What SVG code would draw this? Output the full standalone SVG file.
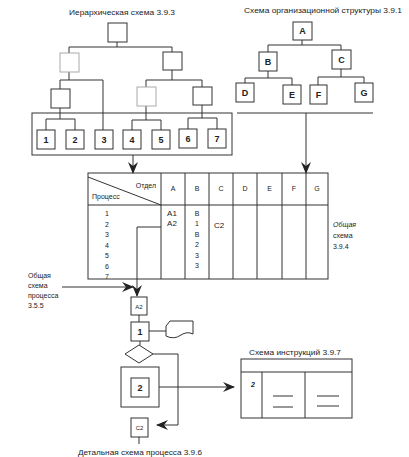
<svg xmlns="http://www.w3.org/2000/svg" width="409" height="457" viewBox="0 0 409 457">
<style>
.b{fill:#fff;stroke:#333;stroke-width:1}
.l{fill:#fff;stroke:#aaa;stroke-width:1}
.c{fill:none;stroke:#333;stroke-width:1}
.t{font-family:"Liberation Sans",Arial,sans-serif;fill:#222}
.n{font-size:9px;text-anchor:middle;font-weight:bold}
.s{font-size:7px}
.m{text-anchor:middle}
</style>
<defs>
<marker id="ar" markerWidth="12" markerHeight="10" refX="11" refY="5" orient="auto" markerUnits="userSpaceOnUse">
<path d="M0,0 L12,5 L0,10 L4,5 Z" fill="#222"/>
</marker>
</defs>
<rect width="409" height="457" fill="#fff"/>

<!-- titles -->
<text class="t" x="122" y="15" font-size="8" text-anchor="middle" textLength="106" lengthAdjust="spacingAndGlyphs">Иерархическая схема 3.9.3</text>
<text class="t" x="323" y="13" font-size="8" text-anchor="middle" textLength="158" lengthAdjust="spacingAndGlyphs">Схема организационной структуры 3.9.1</text>

<!-- connectors -->
<g id="connectors">
<path class="c" d="M117,42V47M69,47H172M69,47V53M172,47V52"/>
<path class="c" d="M69,72V80M60,80H103M60,80V89M103,80V130"/>
<path class="c" d="M60,108V119M46,119H75M46,119V130M75,119V130"/>
<path class="c" d="M172,70V80M146,80H202M146,80V87M202,80V87"/>
<path class="c" d="M146,106V120M132,120H161M132,120V130M161,120V130"/>
<path class="c" d="M202,105V118M188,118H217M188,118V130M217,118V130"/>
<path class="c" d="M133,155V173" marker-end="url(#ar)"/>
<path class="c" d="M302,40V45M268,45H341M268,45V52M341,45V50"/>
<path class="c" d="M268,71V78M245,78H292M245,78V83M292,78V85"/>
<path class="c" d="M341,69V77M318,77H364M318,77V85M364,77V83"/>
<path class="c" d="M237,113H373"/>
<path class="c" d="M306,113V173" marker-end="url(#ar)"/>
<path class="c" d="M161,227H137V296" marker-end="url(#ar)"/>
<path class="c" d="M62,287H133" marker-end="url(#ar)"/>
<path class="c" d="M139,315V322M149,331H166M140,341V345"/>
<path class="c" d="M153,354H178V425H157" marker-end="url(#ar)"/>
<path class="c" d="M159,387H234" marker-end="url(#ar)"/>
<path class="c" d="M139,437V444"/>
</g>

<!-- left hierarchy -->
<g id="h-top"><rect class="b" x="108" y="23" width="19" height="19"/></g>
<g id="h-l2a"><rect class="l" x="60" y="53" width="19" height="19"/></g>
<g id="h-l2b"><rect class="b" x="163" y="52" width="19" height="18"/></g>
<g id="h-l3a"><rect class="b" x="51" y="89" width="19" height="19"/></g>
<g id="h-l3b"><rect class="l" x="137" y="87" width="19" height="19"/></g>
<g id="h-l3c"><rect class="b" x="193" y="87" width="19" height="18"/></g>
<g id="h-container"><rect class="c" x="32" y="113" width="200" height="42"/></g>
<g id="h-1"><rect class="b" x="37" y="130" width="18" height="19"/><text class="t n" x="46" y="143">1</text></g>
<g id="h-2"><rect class="b" x="66" y="130" width="18" height="19"/><text class="t n" x="75" y="143">2</text></g>
<g id="h-3"><rect class="b" x="95" y="130" width="18" height="19"/><text class="t n" x="104" y="143">3</text></g>
<g id="h-4"><rect class="b" x="123" y="130" width="18" height="19"/><text class="t n" x="132" y="143">4</text></g>
<g id="h-5"><rect class="b" x="152" y="130" width="18" height="19"/><text class="t n" x="161" y="143">5</text></g>
<g id="h-6"><rect class="b" x="179" y="129" width="18" height="19"/><text class="t n" x="188" y="142">6</text></g>
<g id="h-7"><rect class="b" x="208" y="129" width="18" height="19"/><text class="t n" x="217" y="142">7</text></g>

<!-- org chart -->
<g id="o-A"><rect class="b" x="293" y="22" width="19" height="18"/><text class="t n" x="302.5" y="34" font-weight="normal">A</text></g>
<g id="o-B"><rect class="b" x="259" y="52" width="18" height="19"/><text class="t n" x="268" y="65">B</text></g>
<g id="o-C"><rect class="b" x="332" y="50" width="19" height="19"/><text class="t n" x="341.5" y="63">C</text></g>
<g id="o-D"><rect class="b" x="236" y="83" width="18" height="19"/><text class="t n" x="245" y="96">D</text></g>
<g id="o-E"><rect class="b" x="283" y="85" width="18" height="19"/><text class="t n" x="292" y="98">E</text></g>
<g id="o-F"><rect class="b" x="310" y="85" width="17" height="19"/><text class="t n" x="318.5" y="98">F</text></g>
<g id="o-G"><rect class="b" x="355" y="83" width="18" height="19"/><text class="t n" x="364" y="96">G</text></g>

<!-- matrix table -->
<g id="matrix">
<rect class="c" x="88" y="173" width="240" height="106"/>
<path class="c" d="M88,205H328M161,173V279M185,173V279M209,173V279M233,173V279M257,173V279M282,173V279M306,173V279M88,177L161,205"/>
<text class="t s" x="156" y="188" text-anchor="end">Отдел</text>
<text class="t s" x="92" y="199">Процесс</text>
<g class="t s m">
<text x="173" y="191">A</text><text x="197" y="191">B</text><text x="221" y="191">C</text><text x="245" y="191">D</text><text x="269.5" y="191">E</text><text x="294" y="191">F</text><text x="317" y="191">G</text>
<text x="107" y="216">1</text><text x="107" y="226.5">2</text><text x="107" y="237">3</text><text x="107" y="247.5">4</text><text x="107" y="258">5</text><text x="107" y="268.5">6</text><text x="107" y="279">7</text>
<text x="197" y="216">B</text><text x="197" y="226">1</text><text x="197" y="237">B</text><text x="197" y="247">2</text><text x="197" y="258">3</text><text x="197" y="268">3</text>
</g>
<text class="t" x="172" y="216" font-size="8" text-anchor="middle">A1</text>
<text class="t" x="172" y="226" font-size="8" text-anchor="middle">A2</text>
<text class="t" x="219" y="228" font-size="8" text-anchor="middle">C2</text>
</g>
<g id="matrix-label" class="t s">
<text x="333" y="227" font-style="italic">Общая</text>
<text x="333" y="238">схема</text>
<text x="333" y="249">3.9.4</text>
</g>

<g id="proc-label" class="t s">
<text x="28" y="278">Общая</text>
<text x="28" y="288">схема</text>
<text x="28" y="298">процесса</text>
<text x="28" y="308">3.5.5</text>
</g>

<!-- process chart -->
<g id="p-A2"><rect class="b" x="131" y="297" width="16" height="18"/><text class="t" x="139" y="308.5" font-size="6" text-anchor="middle">A2</text></g>
<g id="p-1"><rect class="b" x="131" y="322" width="18" height="19"/><text class="t n" x="140" y="335">1</text></g>
<g id="p-doc"><path class="b" d="M166,326L170,321H193V334Q187,331 181,335Q174,340 166,336Z"/></g>
<g id="p-dec"><path class="b" d="M139,345L153,354L139,363L125,354Z"/></g>
<g id="p-2"><rect class="b" x="121" y="367" width="38" height="40" stroke="#555" stroke-width="1.5"/><rect class="b" x="131" y="378" width="18" height="19"/><text class="t n" x="140" y="391">2</text></g>
<g id="p-C2"><rect class="b" x="131" y="418" width="17" height="19"/><text class="t" x="139.5" y="430" font-size="6" text-anchor="middle">C2</text></g>
<text class="t" x="140" y="455" font-size="8" text-anchor="middle" textLength="124" lengthAdjust="spacingAndGlyphs">Детальная схема процесса 3.9.6</text>

<!-- instructions -->
<g id="instructions">
<text class="t" x="295" y="355" font-size="8" text-anchor="middle" textLength="92" lengthAdjust="spacingAndGlyphs">Схема инструкций 3.9.7</text>
<rect class="c" x="241" y="359" width="111" height="59"/>
<path class="c" d="M241,372H352M262,372V418M305,372V418"/>
<path class="c" d="M273,396H293M273,407H293M317,396H339M317,406H339"/>
<text class="t s" x="251" y="387" font-style="italic" font-weight="bold">2</text>
</g>
</svg>
